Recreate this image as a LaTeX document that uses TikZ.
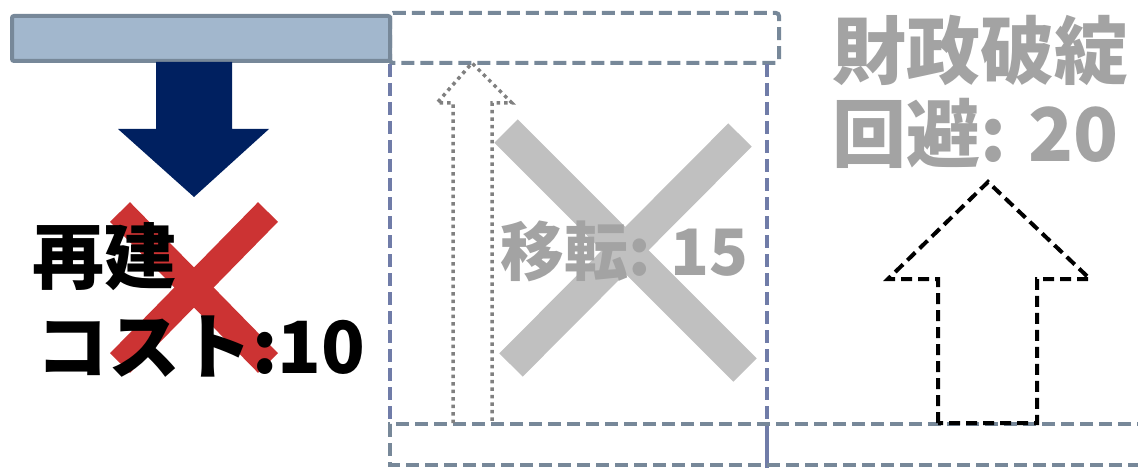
\documentclass[tikz,border=0pt]{standalone}
\usepackage{fontspec}
\newfontfamily\jpfont{Noto Sans CJK JP}
\definecolor{barfill}{HTML}{A2B7CD}
\definecolor{slate}{HTML}{778899}
\definecolor{lineblue}{HTML}{707CA8}
\definecolor{navy}{HTML}{002060}
\definecolor{redx}{HTML}{CC3333}
\definecolor{grayx}{HTML}{C0C0C0}
\definecolor{graytext}{HTML}{A3A3A3}
\definecolor{dotgray}{HTML}{808080}
\begin{document}
\begin{tikzpicture}[x=1pt,y=-1pt,
  bluebar/.style={fill=barfill,draw=slate,line width=4pt,rounded corners=2pt},
  slatedash/.style={draw=slate,line width=4pt,dash pattern=on 13pt off 6pt},
  bluedash/.style={draw=lineblue,line width=4pt,dash pattern=on 13pt off 6pt},
  crossbar/.style={line width=#1,line cap=butt},
  bigtext/.style={inner sep=0pt,anchor=west,font=\jpfont\bfseries\fontsize{#1}{#1}\selectfont},
  dottedarrow/.style={draw=dotgray,line width=3.5pt,dash pattern=on 3.5pt off 4pt},
  blackdash/.style={draw=black,line width=4pt,dash pattern=on 11pt off 6pt}
]
\useasboundingbox (0,0) rectangle (1138,468);

% frames
\path[bluebar] (12,16) rectangle (390,61);
\draw[slatedash,rounded corners=3pt] (390,13) rectangle (779,63);
\draw[bluedash] (390,64) -- (390,424);
\draw[bluedash] (767,64) -- (767,424);
\draw[draw=lineblue,line width=4pt] (767,424) -- (767,468);
\draw[slatedash] (1150,424) -- (390,424) -- (390,465) -- (1150,465);

% navy down arrow
\fill[navy] (156,62) -- (232,62) -- (232,129) -- (269,129) -- (194,197)
  -- (118,129) -- (156,129) -- cycle;

% red cross
\draw[redx,crossbar=28pt] (120,212) -- (268,363);
\draw[redx,crossbar=28pt] (268,212) -- (120,363);

% gray cross
\draw[grayx,crossbar=33pt] (506,131) -- (745,370);
\draw[grayx,crossbar=33pt] (740,135) -- (511,365);

% dotted up arrow
\draw[dottedarrow] (453,423) -- (453,103) -- (437,103) -- (472,63)
  -- (512,103) -- (492,103) -- (492,423);

% black dashed up arrow
\draw[blackdash] (938,423) -- (938,279) -- (888,279) -- (988,182)
  -- (1090,279) -- (1037,279) -- (1037,423) -- cycle;

% texts
\node[bigtext=72] (rebuild) at (32,257) {再建};
\node[bigtext=72] (cost) at (36,347) {コスト:10};
\node[bigtext=64,text=graytext] (move) at (500,251) {移転: 15};
\node[bigtext=74,text=graytext] (fin) at (832,50) {財政破綻};
\node[bigtext=74,text=graytext] (avoid) at (832,133) {回避: 20};
\end{tikzpicture}
\end{document}
